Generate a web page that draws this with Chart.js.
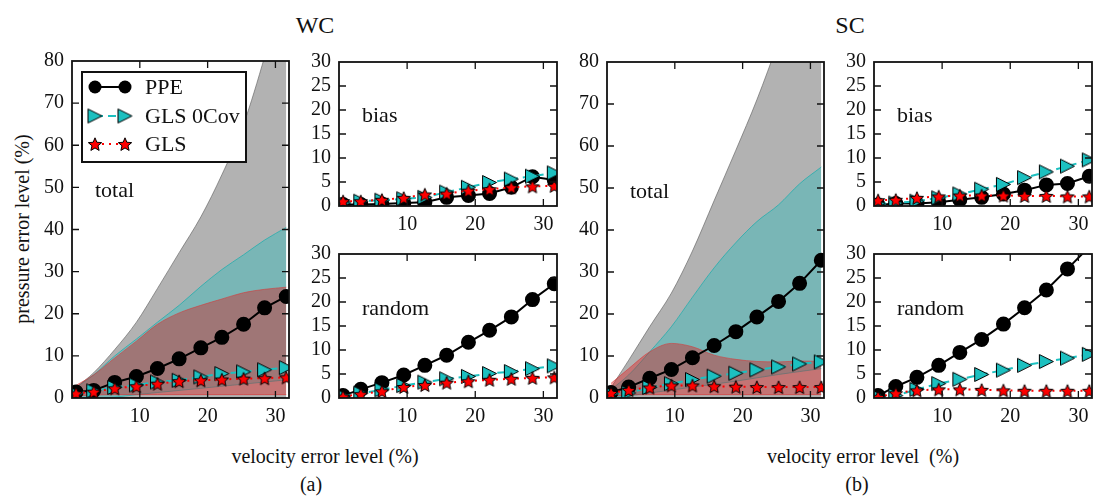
<!DOCTYPE html>
<html>
<head>
<meta charset="utf-8">
<script src="https://cdn.jsdelivr.net/npm/chart.js@4.4.0/dist/chart.umd.min.js"></script>
<style>
  body { margin: 0; background: #fff; overflow: hidden; }
  #fig { position: relative; width: 1095px; height: 496px; overflow: hidden;
         font-family: 'Liberation Serif', 'Times New Roman', serif; color: #111; }
  .box { position: absolute; }
  .txt { position: absolute; transform: translate(-50%, -50%); white-space: nowrap; }
</style>
</head>
<body>
<div id="fig">
  <div class="txt" style="left:315px;top:25px;font-size:24px">WC</div>
  <div class="txt" style="left:850px;top:25px;font-size:24px">SC</div>
  <div class="txt" style="left:22px;top:229px;font-size:20px;transform:translate(-50%,-50%) rotate(-90deg)">pressure error level (%)</div>
  <div class="txt" style="left:325px;top:456px;font-size:20px">velocity error level (%)</div>
  <div class="txt" style="left:311px;top:484px;font-size:20px">(a)</div>
  <div class="txt" style="left:863px;top:456px;font-size:20px">velocity error level&nbsp; (%)</div>
  <div class="txt" style="left:857px;top:484px;font-size:20px">(b)</div>
</div>
<script>
// velocity error levels (%) on the x axis
var velocityLevels = [0.6, 3.2, 6.3, 9.5, 12.6, 15.8, 19.0, 22.1, 25.3, 28.4, 31.6];
var seriesNames = ["PPE", "GLS 0Cov", "GLS"];
var xTickValues = [0, 10, 20, 30];
var totalTickValues = [0, 10, 20, 30, 40, 50, 60, 70, 80];
var partTickValues = [0, 5, 10, 15, 20, 25, 30];

// WC - total
var wcTotalPPE  = [1.4, 1.8, 3.7, 5.1, 7.0, 9.3, 11.9, 14.4, 17.5, 21.4, 24.1];
var wcTotalGLS0 = [1.0, 1.7, 2.5, 3.1, 3.8, 4.2, 5.0, 5.8, 6.2, 6.7, 7.2];
var wcTotalGLS  = [1.1, 1.5, 2.3, 2.8, 3.4, 4.0, 4.2, 4.4, 4.6, 4.7, 4.9];
// WC - bands
var wcPpeLow   = [0, 0, 0, 0, 0, 0, 0, 0, 0, 0, 0];
var wcPpeHigh  = [2.5, 6, 11.5, 18, 26, 34.5, 43, 53, 65, 81, 100];
var wcGls0Low  = [0, 0, 0.2, 0.8, 1.3, 1.8, 2.3, 2.8, 3.3, 3.8, 4.3];
var wcGls0High = [2.5, 5.5, 10, 14, 18, 22, 26.5, 30.5, 34, 37.5, 40.5];
var wcGlsLow   = [0.5, 0.7, 0.8, 0.8, 0.8, 0.8, 0.8, 0.8, 0.8, 0.8, 0.8];
var wcGlsHigh  = [3, 5.5, 9.5, 13.5, 17.5, 20.2, 22, 23.5, 25, 25.8, 26.3];
// WC - bias
var wcBiasPPE  = [0.3, 0.3, 0.4, 0.6, 0.8, 1.8, 2.2, 2.6, 3.9, 6.1, 5.4];
var wcBiasGLS0 = [0.6, 1.0, 1.2, 1.5, 1.8, 2.9, 3.9, 4.9, 5.6, 6.2, 6.9];
var wcBiasGLS  = [1.0, 1.0, 1.3, 1.7, 2.4, 2.6, 3.2, 3.5, 3.9, 4.1, 4.2];
// WC - random
var wcRandPPE  = [0.5, 1.8, 3.2, 4.8, 6.8, 8.9, 11.6, 14.1, 16.9, 20.5, 23.8];
var wcRandGLS0 = [0.4, 1.0, 1.7, 2.6, 3.3, 4.0, 4.5, 5.1, 5.5, 6.1, 6.7];
var wcRandGLS  = [0.3, 0.8, 1.4, 2.3, 2.7, 3.2, 3.5, 3.8, 4.0, 4.2, 4.3];

// SC - total
var scTotalPPE  = [1.3, 2.6, 4.7, 6.8, 9.6, 12.5, 15.8, 19.3, 23.0, 27.3, 32.8];
var scTotalGLS0 = [1.0, 1.2, 2.5, 3.4, 4.4, 5.2, 5.9, 6.7, 7.4, 8.1, 8.6];
var scTotalGLS  = [1.2, 1.9, 2.5, 3.0, 3.0, 2.8, 2.7, 2.6, 2.6, 2.6, 2.6];
// SC - bands
var scPpeLow   = [0, 0, 0, 0, 0, 0, 0, 0, 0, 0, 0];
var scPpeHigh  = [2.5, 9, 17, 25, 35, 47, 59, 71, 85, 100, 115];
var scGls0Low  = [0, 0.5, 1.2, 1.9, 2.6, 3.3, 4.0, 4.8, 5.6, 6.3, 7.0];
var scGls0High = [2, 5.5, 11, 17, 24, 31, 37, 42, 46, 51, 55];
var scGlsLow   = [0.4, 0.7, 0.8, 0.8, 0.8, 0.8, 0.8, 0.8, 0.8, 0.8, 0.8];
var scGlsHigh  = [3.5, 7, 11, 13, 12.2, 10.2, 9.2, 8.7, 8.6, 8.8, 8.7];
// SC - bias
var scBiasPPE  = [0.2, 0.5, 0.5, 0.8, 1.3, 1.8, 2.5, 3.3, 4.4, 4.7, 6.2];
var scBiasGLS0 = [0.5, 0.6, 1.0, 1.7, 2.5, 3.5, 4.5, 5.9, 7.1, 8.3, 9.6];
var scBiasGLS  = [1.2, 1.3, 1.7, 2.0, 2.2, 2.2, 2.2, 2.1, 2.1, 2.0, 2.0];
// SC - random
var scRandPPE  = [0.5, 2.4, 4.3, 6.8, 9.5, 12.2, 15.4, 18.8, 22.5, 26.9, 31.5];
var scRandGLS0 = [0.3, 0.5, 1.8, 3.0, 3.9, 4.9, 5.8, 6.8, 7.6, 8.3, 9.1];
var scRandGLS  = [0.2, 1.0, 1.6, 1.8, 1.8, 1.7, 1.6, 1.5, 1.5, 1.5, 1.5];

var FONT = "'Liberation Serif', 'Times New Roman', serif";
var YW = 50, PT = 14, PR = 4, XH = 34;

// marker images
function starImage(size) {
  var c = document.createElement("canvas");
  c.width = c.height = size;
  var g = c.getContext("2d");
  var R = size / 2 - 1, r = R * 0.45, cx = size / 2, cy = size / 2 + 0.8;
  g.beginPath();
  for (var i = 0; i < 10; i++) {
    var a = -Math.PI / 2 + i * Math.PI / 5;
    var rr = i % 2 ? r : R;
    g.lineTo(cx + rr * Math.cos(a), cy + rr * Math.sin(a));
  }
  g.closePath();
  g.fillStyle = "#ff0000"; g.fill();
  g.lineWidth = 1; g.strokeStyle = "#000"; g.stroke();
  return c;
}
function triImage(size) {
  var c = document.createElement("canvas");
  c.width = c.height = size;
  var g = c.getContext("2d");
  g.beginPath();
  g.moveTo(1.5, 1.5); g.lineTo(size - 1.5, size / 2); g.lineTo(1.5, size - 1.5);
  g.closePath();
  g.fillStyle = "#1cc0c0"; g.fill();
  g.lineWidth = 1; g.strokeStyle = "#000"; g.stroke();
  return c;
}
var STAR = starImage(16), TRI = triImage(17);

function pts(vals) {
  return vals.map(function(v, i) { return { x: velocityLevels[i], y: v }; });
}

var bandStyles = [
  { fill: "rgba(0,0,0,0.30)",     edge: "rgba(90,90,90,0.6)" },
  { fill: "rgba(0,191,191,0.32)", edge: "rgba(0,170,170,0.6)" },
  { fill: "rgba(229,0,0,0.35)",   edge: "rgba(210,60,60,0.6)" }
];

function buildDatasets(p) {
  var ds = [
    { label: seriesNames[2], data: pts(p.gls), order: 1, borderColor: "#ff0000", borderWidth: 2,
      borderDash: [2, 5], pointStyle: STAR, pointRadius: 8, fill: false },
    { label: seriesNames[1], data: pts(p.gls0), order: 2, borderColor: "#1cc0c0", borderWidth: 2,
      borderDash: [8, 5], pointStyle: TRI, pointRadius: 8, fill: false },
    { label: seriesNames[0], data: pts(p.ppe), order: 3, borderColor: "#000", borderWidth: 2,
      pointStyle: "circle", pointRadius: 6.5, pointBackgroundColor: "#000", pointBorderColor: "#000", fill: false }
  ];
  if (p.bands) {
    p.bands.forEach(function(b, k) {
      var st = bandStyles[k];
      ds.push({ label: "lo" + k, data: pts(b[0]), order: 20 - 2 * k, borderColor: st.edge, borderWidth: 1,
        pointRadius: 0, cubicInterpolationMode: "monotone", fill: false });
      ds.push({ label: "hi" + k, data: pts(b[1]), order: 19 - 2 * k, borderColor: st.edge, borderWidth: 1,
        pointRadius: 0, cubicInterpolationMode: "monotone", fill: "-1", backgroundColor: st.fill });
    });
  }
  return ds;
}

// frame, inward ticks, panel label and legend
var decor = {
  id: "decor",
  afterDatasetsDraw: function(chart) {
    var o = chart.options.plugins.decor;
    var a = chart.chartArea, g = chart.ctx;
    var xs = chart.scales.x, ys = chart.scales.y;
    g.save();
    g.strokeStyle = "#111"; g.lineWidth = 1.3;
    g.beginPath();
    xTickValues.forEach(function(v) {
      if (v <= xs.min || v >= xs.max) return;
      var px = xs.getPixelForValue(v);
      g.moveTo(px, a.bottom); g.lineTo(px, a.bottom - 7);
      g.moveTo(px, a.top); g.lineTo(px, a.top + 7);
    });
    o.yTicks.forEach(function(v) {
      if (v <= ys.min || v >= ys.max) return;
      var py = ys.getPixelForValue(v);
      g.moveTo(a.left, py); g.lineTo(a.left + 7, py);
      g.moveTo(a.right, py); g.lineTo(a.right - 7, py);
    });
    g.stroke();
    g.lineWidth = 1.8;
    g.strokeRect(a.left, a.top, a.right - a.left, a.bottom - a.top);

    g.fillStyle = "#111";
    g.font = "22px " + FONT;
    g.textBaseline = "middle";
    g.textAlign = "left";
    g.fillText(o.label, a.left + 23, a.top + o.labelDy);

    if (o.legend) {
      var lx = a.left + 10, ly = a.top + 11;
      g.fillStyle = "#fff";
      g.fillRect(lx, ly, 164, 90);
      g.lineWidth = 2; g.strokeStyle = "#111";
      g.strokeRect(lx, ly, 164, 90);
      var rows = [26, 55, 83];
      var dsets = chart.data.datasets;
      [2, 1, 0].forEach(function(di, r) {
        var d = dsets[di], y = a.top + rows[r];
        var x1 = a.left + 23, x2 = a.left + 53;
        g.save();
        g.strokeStyle = d.borderColor; g.lineWidth = 2;
        g.setLineDash(d.borderDash || []);
        g.beginPath(); g.moveTo(x1, y); g.lineTo(x2, y); g.stroke();
        g.restore();
        [x1, x2].forEach(function(x) {
          if (d.pointStyle === "circle") {
            g.beginPath(); g.arc(x, y, 6.5, 0, Math.PI * 2); g.fillStyle = "#000"; g.fill();
          } else {
            g.drawImage(d.pointStyle, x - d.pointStyle.width / 2, y - d.pointStyle.height / 2);
          }
        });
        g.fillStyle = "#111";
        g.font = "22px " + FONT;
        g.fillText(d.label, a.left + 73, y + 1);
      });
    }
    g.restore();
  }
};

function makePanel(p) {
  var l = p.area[0], t = p.area[1], r = p.area[2], b = p.area[3];
  var w = r - l + YW + PR, h = b - t + PT + XH;
  var div = document.createElement("div");
  div.className = "box";
  div.style.left = (l - YW) + "px"; div.style.top = (t - PT) + "px";
  div.style.width = w + "px"; div.style.height = h + "px";
  var cv = document.createElement("canvas");
  cv.width = w; cv.height = h;
  div.appendChild(cv);
  document.getElementById("fig").appendChild(div);

  new Chart(cv, {
    type: "line",
    data: { datasets: buildDatasets(p) },
    options: {
      responsive: false,
      animation: false,
      events: [],
      layout: { padding: { top: PT, right: PR, left: 0, bottom: 0 } },
      plugins: {
        legend: { display: false },
        tooltip: { enabled: false },
        decor: { label: p.label, labelDy: p.labelDy, legend: p.legend, yTicks: p.yTicks }
      },
      scales: {
        x: {
          type: "linear", min: 0, max: 32,
          grid: { display: false, drawTicks: false },
          border: { display: false },
          afterBuildTicks: function(s) { s.ticks = xTickValues.map(function(v) { return { value: v }; }); },
          afterFit: function(s) { s.height = XH; },
          ticks: { padding: 9, autoSkip: false, maxRotation: 0, color: "#111",
            font: { family: FONT, size: 20, lineHeight: 1 },
            callback: function(v) { return v === 0 ? "" : v; } }
        },
        y: {
          min: 0, max: p.yTicks[p.yTicks.length - 1],
          grid: { display: false, drawTicks: false },
          border: { display: false },
          afterBuildTicks: function(s) { s.ticks = p.yTicks.map(function(v) { return { value: v }; }); },
          afterFit: function(s) { s.width = YW; },
          ticks: { padding: 8, autoSkip: false, color: "#111",
            font: { family: FONT, size: 20, lineHeight: 1 } }
        }
      }
    },
    plugins: [decor]
  });
}

var panels = [
  { area: [72, 57, 295, 398], yTicks: totalTickValues, ppe: wcTotalPPE, gls0: wcTotalGLS0, gls: wcTotalGLS,
    bands: [[wcPpeLow, wcPpeHigh], [wcGls0Low, wcGls0High], [wcGlsLow, wcGlsHigh]],
    label: "total", labelDy: 130, legend: true },
  { area: [339, 58, 563, 206], yTicks: partTickValues, ppe: wcBiasPPE, gls0: wcBiasGLS0, gls: wcBiasGLS,
    label: "bias", labelDy: 54 },
  { area: [339, 250, 563, 398], yTicks: partTickValues, ppe: wcRandPPE, gls0: wcRandGLS0, gls: wcRandGLS,
    label: "random", labelDy: 55 },
  { area: [607, 58, 830, 398], yTicks: totalTickValues, ppe: scTotalPPE, gls0: scTotalGLS0, gls: scTotalGLS,
    bands: [[scPpeLow, scPpeHigh], [scGls0Low, scGls0High], [scGlsLow, scGlsHigh]],
    label: "total", labelDy: 130 },
  { area: [874, 58, 1098, 206], yTicks: partTickValues, ppe: scBiasPPE, gls0: scBiasGLS0, gls: scBiasGLS,
    label: "bias", labelDy: 54 },
  { area: [874, 250, 1098, 398], yTicks: partTickValues, ppe: scRandPPE, gls0: scRandGLS0, gls: scRandGLS,
    label: "random", labelDy: 55 }
];
panels.forEach(makePanel);
</script>
</body>
</html>
